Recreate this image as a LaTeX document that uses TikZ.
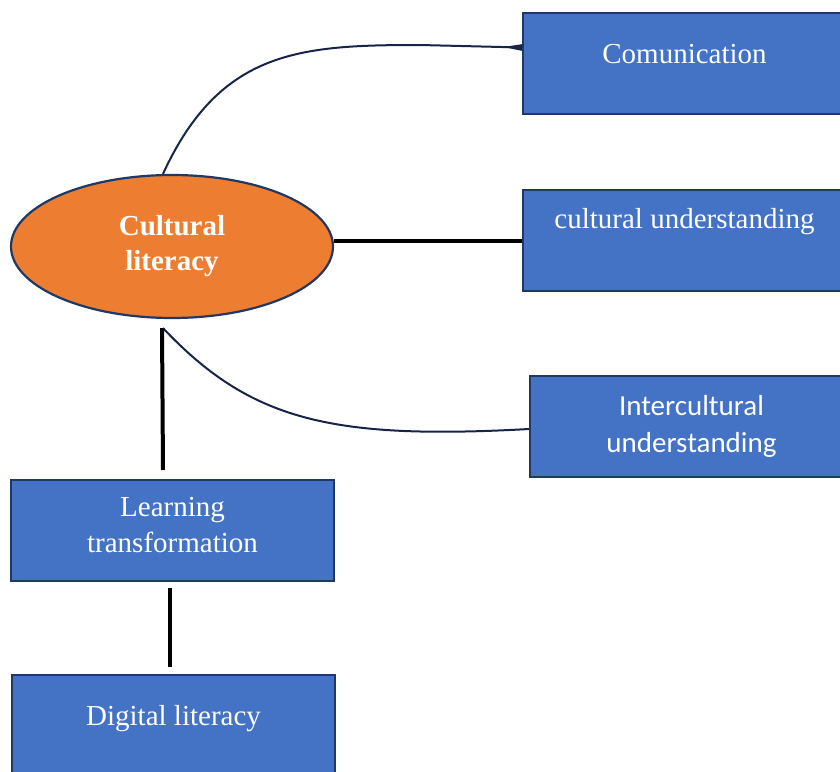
\documentclass[tikz,border=0pt]{standalone}
\usepackage{fontspec}
\setmainfont{Liberation Serif}
\newfontfamily\calibri{Carlito}
\definecolor{boxblue}{RGB}{68,114,196}
\definecolor{boxedge}{RGB}{32,56,100}
\definecolor{litorange}{RGB}{237,125,49}
\definecolor{linknavy}{RGB}{22,36,72}
\usetikzlibrary{shapes.geometric}
\usetikzlibrary{arrows.meta}
\tikzset{
  topic/.style={draw=boxedge, line width=2pt, fill=boxblue, text=white,
    minimum width=323pt, minimum height=101pt, inner sep=0pt,
    anchor=north west, align=center, font=\fontsize{29}{36}\selectfont},
  oneline/.style={text height=22pt, text depth=#1},
  bar/.style={line width=4pt},
  curve/.style={draw=linknavy, line width=2pt},
}

\begin{document}
\begin{tikzpicture}[x=1pt,y=-1pt]
  \useasboundingbox (0,0) rectangle (840,771);

  % centre
  \node [ellipse, draw=boxedge, line width=2.2pt, fill=litorange, text=white,
    minimum width=322pt, minimum height=143pt, inner sep=0pt, align=center,
    font=\bfseries\fontsize{29}{35}\selectfont] (lit) at (172,246.5)
    {Cultural\\literacy};

  % right column
  \node [topic, oneline=23pt] (com) at (522,12) {Comunication};
  \node [topic, oneline=47pt] (cult) at (522,189) {cultural understanding};
  \node [topic, font=\calibri\fontsize{29}{37}\selectfont] (inter) at (529,375)
    {Intercultural\\understanding};

  % left column
  \node [topic] (learn) at (10,479) {Learning\\transformation\strut\strut};
  \node [topic, oneline=23pt] (digi) at (11,674) {Digital literacy};

  % links
  \draw [curve, -{Triangle[reversed, length=20pt, width=6pt]}]
    ([xshift=-9pt]lit.north) .. controls (220,50) and (300,45) .. (420,45)
    -- ([yshift=16pt]com.west);
  \draw [bar] (lit.east |- cult.west) -- (cult.west);
  \draw [curve] ([xshift=-9pt,yshift=-9pt]lit.south)
    .. controls (250,420) and (330,440) .. ([yshift=-2.5pt]inter.west);
  \draw [bar] ([xshift=-10pt,yshift=-9pt]lit.south)
    -- ([xshift=-9.5pt,yshift=9pt]learn.north);
  \draw [bar] ([xshift=-2.5pt,yshift=-6pt]learn.south)
    -- ([xshift=-3.5pt,yshift=7pt]digi.north);

\end{tikzpicture}
\end{document}
